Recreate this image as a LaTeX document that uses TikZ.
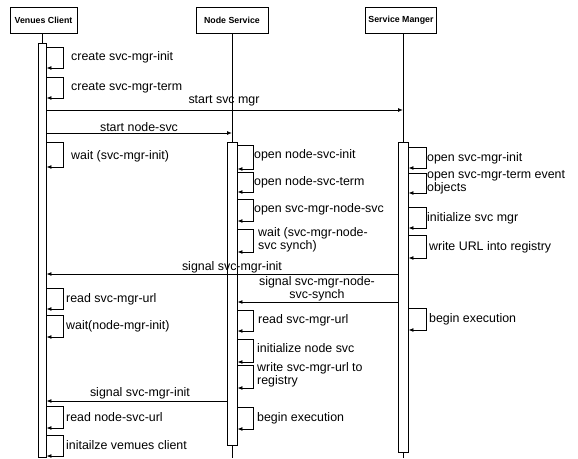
\documentclass[tikz,border=0pt]{standalone}
\usepackage{fontspec}
\setmainfont{Liberation Sans}
\usetikzlibrary{arrows.meta}
\begin{document}
\begin{tikzpicture}[x=1pt,y=-1pt,
  head/.style={draw, line width=0.9pt, minimum height=26pt, inner sep=1pt, font=\fontsize{8.8}{10}\bfseries\selectfont},
  actbar/.style={draw, fill=white, line width=0.9pt, inner sep=0pt, anchor=north},
  life/.style={line width=0.9pt},
  msg/.style={line width=0.9pt, -{Latex[length=5pt,width=4pt]}},
  lbl/.style={inner sep=0pt, font=\fontsize{12.4}{8.8}\selectfont},
  llbl/.style={lbl, anchor=west, align=left},
  clbl/.style={lbl, align=center}
]
\useasboundingbox[fill=white] (0,0) rectangle (578,458);

% heads
\node[head, minimum width=67pt] (vc) at (43.5,20) {Venues Client};
\node[head, minimum width=72pt] (ns) at (232,20) {Node Service};
\node[head, minimum width=71pt] (sm) at (401,20) {Service Manger};

% activation bars
\node[actbar, minimum width=8pt, minimum height=414pt] (vcbar) at (42,43) {};
\node[actbar, minimum width=10pt, minimum height=303pt] (nsbar) at (232,142) {};
\node[actbar, minimum width=10pt, minimum height=310pt] (smbar) at (403,142) {};

\coordinate (nsend) at (232,458);
\coordinate (smend) at (403,458);

% lifelines
\draw[life] (vcbar.north |- vc.south) -- (vcbar.north);
\draw[life] (nsbar.north |- ns.south) -- (nsbar.north);
\draw[life] (smbar.north |- sm.south) -- (smbar.north);
\draw[life] (nsbar.south) -- (nsend);
\draw[life] (smbar.south) -- (smend);

% self messages: Venues Client
\draw[msg] (vcbar.east |- 0,47) -| (63,68) -- (vcbar.east |- 0,68);
\node[llbl] (v1) at (71,57) {create svc-mgr-init};
\draw[msg] (vcbar.east |- 0,77) -| (63,98) -- (vcbar.east |- 0,98);
\node[llbl] (v2) at (71,88) {create svc-mgr-term};
\draw[msg] (vcbar.east |- 0,142) -| (63,167) -- (vcbar.east |- 0,167);
\node[llbl] (v3) at (71,156) {wait (svc-mgr-init)};
\draw[msg] (vcbar.east |- 0,288) -| (63,309) -- (vcbar.east |- 0,309);
\node[llbl] (v4) at (66,299) {read svc-mgr-url};
\draw[msg] (vcbar.east |- 0,315) -| (63,337) -- (vcbar.east |- 0,337);
\node[llbl] (v5) at (66,326) {wait(node-mgr-init)};
\draw[msg] (vcbar.east |- 0,406) -| (63,428) -- (vcbar.east |- 0,428);
\node[llbl] (v6) at (66,417) {read node-svc-url};
\draw[msg] (vcbar.east |- 0,435) -| (63,456) -- (vcbar.east |- 0,456);
\node[llbl] (v7) at (66,445) {initailze vemues client};

% self messages: Node Service
\draw[msg] (nsbar.east |- 0,145) -| (253,169) -- (nsbar.east |- 0,169);
\node[llbl] (n1) at (254,155) {open node-svc-init};
\draw[msg] (nsbar.east |- 0,172) -| (253,192) -- (nsbar.east |- 0,192);
\node[llbl] (n2) at (254,182) {open node-svc-term};
\draw[msg] (nsbar.east |- 0,199) -| (253,221) -- (nsbar.east |- 0,221);
\node[llbl] (n3) at (254,209) {open svc-mgr-node-svc};
\draw[msg] (nsbar.east |- 0,229) -| (253,252) -- (nsbar.east |- 0,252);
\node[llbl] (n4) at (258,240) {wait (svc-mgr-node-\\svc synch)};
\draw[msg] (nsbar.east |- 0,310) -| (253,331) -- (nsbar.east |- 0,331);
\node[llbl] (n5) at (258,320) {read svc-mgr-url};
\draw[msg] (nsbar.east |- 0,339) -| (253,362) -- (nsbar.east |- 0,362);
\node[llbl] (n6) at (257,348) {initialize node svc};
\draw[msg] (nsbar.east |- 0,365) -| (253,388) -- (nsbar.east |- 0,388);
\node[llbl] (n7) at (257,375) {write svc-mgr-url to\\registry};
\draw[msg] (nsbar.east |- 0,407) -| (253,429) -- (nsbar.east |- 0,429);
\node[llbl] (n8) at (257,418) {begin execution};

% self messages: Service Manager
\draw[msg] (smbar.east |- 0,147) -| (426,168) -- (smbar.east |- 0,168);
\node[llbl] (s1) at (427,158) {open svc-mgr-init};
\draw[msg] (smbar.east |- 0,173) -| (426,193) -- (smbar.east |- 0,193);
\node[llbl] (s2) at (427,182) {open svc-mgr-term event\\objects};
\draw[msg] (smbar.east |- 0,207) -| (426,228) -- (smbar.east |- 0,228);
\node[llbl] (s3) at (427,218) {initialize svc mgr};
\draw[msg] (smbar.east |- 0,235) -| (426,258) -- (smbar.east |- 0,258);
\node[llbl] (s4) at (429,247) {write URL into registry};
\draw[msg] (smbar.east |- 0,308) -| (426,330) -- (smbar.east |- 0,330);
\node[llbl] (s5) at (429,319) {begin execution};

% messages between lifelines
\draw[msg] (vcbar.east |- 0,110) -- (smbar.north |- 0,110);
\node[clbl] (m1) at (224,101) {start svc mgr};
\draw[msg] (vcbar.east |- 0,133) -- (nsbar.north |- 0,133);
\node[clbl] (m2) at (139,127) {start node-svc};
\draw[msg] (smbar.west |- 0,274) -- (vcbar.east |- 0,274);
\node[clbl] (m3) at (232,267) {signal svc-mgr-init};
\draw[msg] (smbar.west |- 0,302) -- (nsbar.east |- 0,302);
\node[clbl] (m4) at (317,289) {signal svc-mgr-node-\\svc-synch};
\draw[msg] (nsbar.west |- 0,401) -- (vcbar.east |- 0,401);
\node[clbl] (m5) at (140,393) {signal svc-mgr-init};
\end{tikzpicture}
\end{document}
